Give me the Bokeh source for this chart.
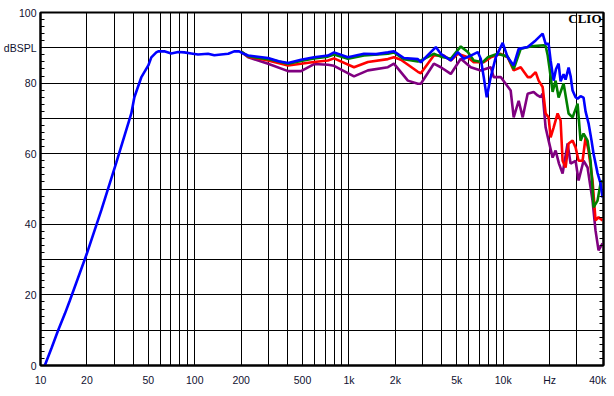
from bokeh.plotting import figure
from bokeh.models import Range1d, FixedTicker, LinearAxis, Label
from bokeh.embed import file_html
from bokeh.resources import INLINE

# ---- data (Hz, dBSPL) ----
LF_FREQ = [10.66, 11.78, 13.0, 14.4, 15.5, 19.9, 24.8, 31.0, 38.8, 40.6, 45.0, 50.0,
           52.3, 56.3, 58.0, 63.5, 70.4, 78.1, 85.6, 94.9, 105, 122, 134, 148, 165,
           180, 194, 208]
LF_DB = [0.0, 4.9, 9.9, 14.7, 18.4, 31.5, 44.0, 57.5, 71.4, 76.0, 81.6, 85.0,
         87.3, 88.7, 89.0, 89.0, 88.4, 88.8, 88.7, 88.4, 88.1, 88.3, 87.9, 88.1, 88.3,
         89.0, 89.0, 88.3]

BLUE_FREQ = [222, 299, 350, 403, 489, 594, 731, 800, 985, 1251, 1500, 1788, 1956, 2270,
             2797, 2924, 3657, 3939, 4573, 5076, 5550, 6161, 6839, 7152, 7479, 7821,
             8300, 8945, 9926, 10693, 11695, 12600, 14408, 16233, 18018, 18842, 19702,
             20296, 21226, 22000, 22865, 23559, 24635, 25380, 26546, 27346, 28172,
             29464, 30355, 31738, 33189, 34198, 35760, 37392, 38525, 40896, 42763, 44055]
BLUE_DB = [87.8, 87.1, 86.2, 85.7, 86.6, 87.3, 87.8, 88.7, 87.3, 88.3, 88.2, 88.7, 89.0, 87.1,
           86.8, 85.9, 90.2, 88.3, 86.4, 88.8, 86.9, 87.8, 88.8, 86.9, 81.7, 76.0,
           81.7, 87.3, 91.4, 87.3, 85.0, 89.7, 90.2, 92.1, 94.0, 91.1, 91.1,
           86.4, 80.7, 84.0, 85.5, 80.5, 82.5, 81.0, 84.4, 82.0, 77.9,
           76.0, 75.6, 76.3, 75.9, 72.0, 68.6, 63.7, 60.0, 54.5, 51.6, 47.6]

GREEN_FREQ = [200, 222, 299, 403, 489, 594, 731, 800, 985, 1251, 1788, 1956, 2270, 2797,
              2924, 3549, 3939, 4573, 5307, 5892, 6444, 7370, 7937, 9213, 10693, 11695,
              12985, 15066, 18289, 18842, 19410, 20000, 20911, 21866, 22865, 24635,
              26546, 28172, 30355, 31738, 33189, 35231, 36838, 37950, 38525, 40896,
              42763, 44055]
GREEN_DB = [88.9, 87.6, 86.8, 85.5, 86.3, 87.0, 87.5, 88.1, 86.9, 87.8, 88.3, 88.7, 86.8, 86.1,
            86.4, 88.3, 87.5, 86.9, 90.4, 88.8, 86.4, 85.9, 87.3, 88.3, 87.5, 84.0,
            89.7, 90.4, 90.7, 90.5, 88.0, 84.0, 77.5, 80.7, 75.9, 79.9,
            71.4, 70.3, 74.2, 63.7, 65.7, 63.7, 58.0, 50.4, 44.8, 46.7,
            51.6, 52.4]

RED_FREQ = [200, 222, 299, 403, 489, 594, 731, 800, 1078, 1327, 1788, 1956, 2171, 2797,
            2924, 3549, 4120, 4573, 5076, 5892, 6444, 7479, 8300, 9634, 10693, 11695,
            12985, 14408, 15066, 16233, 16975, 18018, 18842, 19702, 20296, 21226,
            22529, 23559, 24270, 25380, 26546, 28172, 29464, 30812, 32699, 34198,
            35760, 37950, 39693, 41510, 44055]
RED_DB = [88.9, 87.5, 86.4, 85.0, 85.5, 86.0, 86.4, 87.0, 84.5, 86.0, 86.8, 87.3, 86.6, 83.2,
          82.8, 87.8, 87.8, 86.4, 88.3, 87.3, 85.9, 85.9, 87.3, 88.3, 87.3, 83.6,
          84.5, 81.7, 81.7, 83.1, 80.7, 78.9, 71.4, 70.3, 64.6, 67.4,
          71.4, 69.4, 58.0, 56.1, 62.9, 63.7, 61.8, 58.0, 58.0, 64.6,
          60.9, 52.4, 41.1, 42.0, 41.1]

PURPLE_FREQ = [200, 222, 299, 403, 489, 594, 731, 800, 1078, 1327, 1788, 1956, 2409, 2797,
               2924, 3549, 3939, 4573, 5307, 6161, 7152, 8300, 8678, 9634, 11180, 11695,
               12600, 13376, 14408, 15755, 16723, 17487, 18018, 18842, 19702, 20911,
               21866, 23000, 24270, 26150, 27346, 29464, 30812, 33189, 35231, 37950,
               39693, 41510, 44055]
PURPLE_DB = [88.9, 87.3, 85.5, 83.4, 83.4, 85.4, 85.2, 84.9, 81.9, 83.6, 84.5, 85.5, 80.7, 79.8,
             79.8, 85.5, 84.5, 82.6, 86.9, 84.5, 83.6, 84.5, 81.7, 81.7, 77.9, 70.3,
             75.0, 70.3, 77.0, 77.5, 76.5, 76.0, 77.0, 67.4, 63.7, 58.9,
             60.9, 57.2, 54.4, 62.9, 57.2, 58.0, 52.4, 58.0, 56.1, 46.7,
             38.2, 32.6, 34.6]

X_TICKS = [10, 20, 50, 100, 200, 500, 1000, 2000, 5000, 10000, 20000, 41000]
X_LABELS = ["10", "20", "50", "100", "200", "500", "1k", "2k", "5k", "10k", "Hz", "40k"]
Y_TICKS = [0, 20, 40, 60, 80, 90, 100]
Y_LABELS = ["0", "20", "40", "60", "80", "dBSPL", "100"]

X_GRID = [m * d for d in (10, 100, 1000) for m in range(2, 11)] + [20000, 30000]
Y_GRID = list(range(10, 100, 10))
Y_MINOR = [v for v in range(2, 100, 2) if v % 10]

FONT = "Liberation Sans"
TXT = "#101030"

p = figure(width=614, height=396, x_axis_type="log",
           x_range=Range1d(10, 44700), y_range=Range1d(0, 100),
           output_backend="svg", toolbar_location=None,
           min_border_left=39, min_border_right=11, min_border_top=12, min_border_bottom=31)
p.background_fill_color = "white"
p.border_fill_color = "white"
p.outline_line_color = "black"
p.outline_line_width = 2

# grids
p.xgrid.ticker = FixedTicker(ticks=X_GRID)
p.ygrid.ticker = FixedTicker(ticks=Y_GRID)
for g in (p.xgrid, p.ygrid):
    g.grid_line_color = "black"
    g.grid_line_width = 1
    g.grid_line_alpha = 1.0

# x axis
xa = p.xaxis[0]
xa.ticker = FixedTicker(ticks=X_TICKS)
xa.major_label_overrides = {t: l for t, l in zip(X_TICKS, X_LABELS)}
xa.major_tick_in = 0
xa.major_tick_out = 0
xa.minor_tick_in = 0
xa.minor_tick_out = 0
xa.axis_line_width = 2
xa.major_label_standoff = 8
xa.major_label_text_font = FONT
xa.major_label_text_font_size = "10.5px"
xa.major_label_text_color = TXT

# y axis
ya = p.yaxis[0]
ya.ticker = FixedTicker(ticks=Y_TICKS, minor_ticks=Y_MINOR)
ya.major_label_overrides = {t: l for t, l in zip(Y_TICKS, Y_LABELS)}
ya.major_tick_in = 0
ya.major_tick_out = 0
ya.minor_tick_in = 4
ya.minor_tick_out = 0
ya.minor_tick_line_color = "black"
ya.axis_line_width = 2
ya.major_label_standoff = 4
ya.major_label_text_font = FONT
ya.major_label_text_font_size = "10.5px"
ya.major_label_text_color = TXT

ra = LinearAxis(ticker=FixedTicker(ticks=[], minor_ticks=Y_MINOR),
                major_label_text_font_size="0px", major_label_standoff=0,
                major_tick_in=0, major_tick_out=0, minor_tick_in=4, minor_tick_out=0,
                axis_line_width=2)
p.add_layout(ra, "right")

# curves
lw = 2.6
p.line(PURPLE_FREQ, PURPLE_DB, line_color="#800080", line_width=lw)
p.line(RED_FREQ, RED_DB, line_color="#FF0000", line_width=lw)
p.line(GREEN_FREQ, GREEN_DB, line_color="#008000", line_width=lw)
p.line(LF_FREQ + BLUE_FREQ, LF_DB + BLUE_DB, line_color="#0000FF", line_width=lw)

p.add_layout(Label(x=43400, y=98.4, text="CLIO", text_align="right",
                   text_baseline="middle", text_font="Liberation Serif",
                   text_font_style="bold", text_font_size="13px", text_color="black"))

open("out.html", "w").write(file_html(p, INLINE))
